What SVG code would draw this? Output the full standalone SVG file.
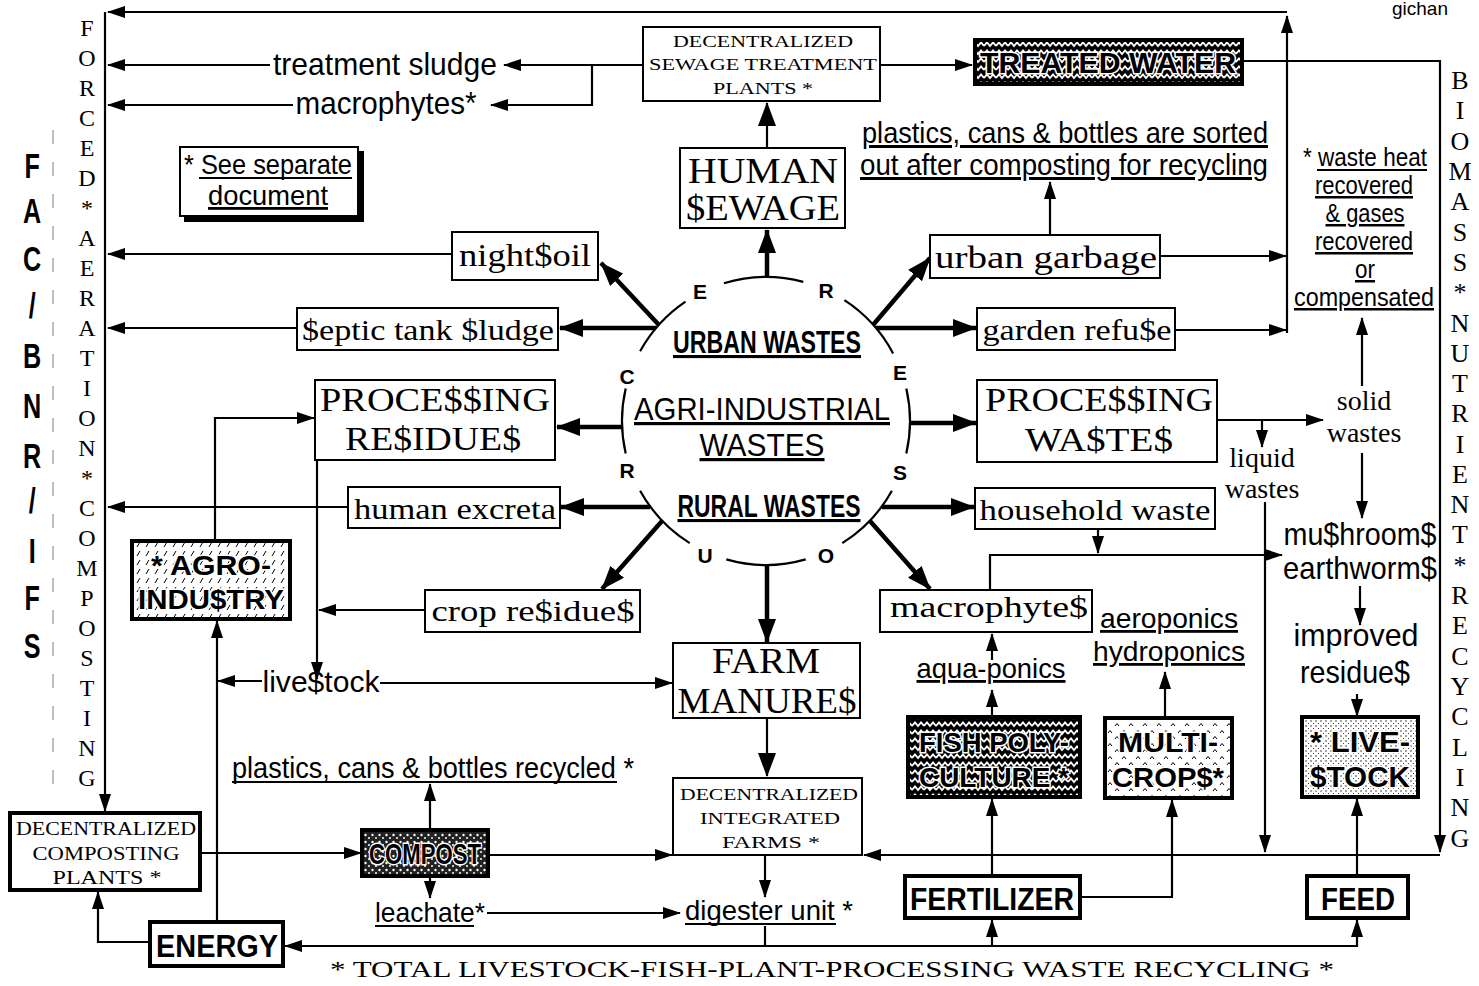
<svg xmlns="http://www.w3.org/2000/svg" width="1479" height="986" viewBox="0 0 1479 986">
<style>
.c{fill:none;stroke:#000;stroke-width:2.2}
.k{fill:none;stroke:#000;stroke-width:4.5}
.b{fill:#fff;stroke:#000;stroke-width:2}
.bt{stroke:#000;stroke-width:4}
.ul{stroke:#000;stroke-width:2}
.sn{font-family:"Liberation Sans Narrow","Liberation Sans",Arial,sans-serif}
.sf{font-family:"Liberation Serif","Times New Roman",serif}
.u{text-decoration:underline}
.h{stroke:#fff;stroke-width:3;paint-order:stroke;font-weight:bold}
.lt{font-family:"Liberation Sans Narrow","Liberation Sans",Arial,sans-serif;font-weight:bold;font-size:21px}
</style>
<defs>
<marker id="a" viewBox="0 0 18 12" refX="17" refY="6" markerWidth="18" markerHeight="12" markerUnits="userSpaceOnUse" orient="auto"><path d="M0,0L18,6L0,12z"/></marker>
<marker id="A" viewBox="0 0 24 18" refX="23" refY="9" markerWidth="24" markerHeight="18" markerUnits="userSpaceOnUse" orient="auto"><path d="M0,0L24,9L0,18z"/></marker>
<pattern id="wave" width="12" height="8" patternUnits="userSpaceOnUse"><rect width="12" height="8" fill="#000"/><path d="M0,6L3,2.5L6,6L9,2.5L12,6" fill="none" stroke="#fff" stroke-width="1.8"/></pattern>
<pattern id="dash" width="9" height="9" patternUnits="userSpaceOnUse"><rect width="9" height="9" fill="#fff"/><path d="M2,7L5,2" stroke="#000" stroke-width="1"/></pattern>
<pattern id="blot" width="7" height="7" patternUnits="userSpaceOnUse"><rect width="7" height="7" fill="#222"/><circle cx="1.5" cy="2" r="1.2" fill="#fff"/><circle cx="5" cy="5" r="1" fill="#fff"/></pattern>
<pattern id="dot" width="5" height="5" patternUnits="userSpaceOnUse"><rect width="5" height="5" fill="#fff"/><circle cx="1" cy="1" r="0.7" fill="#000"/><circle cx="3.5" cy="3.5" r="0.5" fill="#000"/></pattern>
<pattern id="caret" width="14" height="13" patternUnits="userSpaceOnUse"><rect width="14" height="13" fill="#fff"/><path d="M2,5L4,2.5L6,5M9,11L11,8.5L13,11" fill="none" stroke="#000" stroke-width="1"/></pattern>
</defs>
<rect width="1479" height="986" fill="#fff"/>

<!-- side columns -->
<g id="side-fac-bnr-ifs">
<text class="sn" font-weight="bold" font-size="36" text-anchor="middle" transform="scale(0.7,1)" x="46 46 46 46 46 46 46 46 46 46 46" y="178 223 271 318 368 418 468 513 563 610 658">FAC/BNR/IFS</text>
<path d="M53,130V800" stroke="#aaa" stroke-width="1.5" stroke-dasharray="14 18" fill="none"/>
</g>
<g id="side-forced-aeration">
<text class="sf" font-size="24" text-anchor="middle" x="87 87 87 87 87 87 87 87 87 87 87 87 87 87 87 87 87 87 87 87 87 87 87 87 87 87" y="36 66 96 126 156 186 216 246 276 306 336 366 396 426 456 486 516 546 576 606 636 666 696 726 756 786">FORCED*AERATION*COMPOSTING</text>
</g>
<g id="side-biomass">
<text class="sf" font-size="26" text-anchor="middle" x="1460 1460 1460 1460 1460 1460 1460 1460 1460 1460 1460 1460 1460 1460 1460 1460 1460 1460 1460 1460 1460 1460 1460 1460 1460 1460" y="89 119 150 180 210 241 271 301 332 362 392 422 453 483 513 543 574 604 634 665 695 725 756 786 816 847">BIOMASS*NUTRIENT*RECYCLING</text>
</g>
<g id="corner-note"><text class="sn" font-size="19" x="1420" y="15" text-anchor="middle">gichan</text></g>

<!-- connectors -->
<g id="connectors">
<path class="c" d="M1287,333V16" marker-end="url(#a)"/>
<path class="c" d="M1287,12H108" marker-end="url(#a)"/>
<path class="c" d="M1160,256H1286" marker-end="url(#a)"/>
<path class="c" d="M1175,330H1286" marker-end="url(#a)"/>
<path class="c" d="M1050,235V182" marker-end="url(#a)"/>
<path class="c" d="M1242,61H1440V852" marker-end="url(#a)"/>
<path class="c" d="M1440,855H864" marker-end="url(#a)"/>
<path class="c" d="M880,65H972" marker-end="url(#a)"/>
<path class="c" d="M643,65H504" marker-end="url(#a)"/>
<path class="c" d="M592,65V105H491" marker-end="url(#a)"/>
<path class="c" d="M270,65H108" marker-end="url(#a)"/>
<path class="c" d="M293,105H108" marker-end="url(#a)"/>
<path class="c" d="M452,254H108" marker-end="url(#a)"/>
<path class="c" d="M297,328H108" marker-end="url(#a)"/>
<path class="c" d="M348,507H108" marker-end="url(#a)"/>
<path class="c" d="M105,12V811" marker-end="url(#a)"/>
<path class="c" d="M215,541V418H314" marker-end="url(#a)"/>
<path class="c" d="M317,460V679" marker-end="url(#a)"/>
<path class="c" d="M425,610H319" marker-end="url(#a)"/>
<path class="c" d="M262,681H218" marker-end="url(#a)"/>
<path class="c" d="M380,683H672" marker-end="url(#a)"/>
<path class="c" d="M217,922V621" marker-end="url(#a)"/>
<path class="c" d="M200,853H361" marker-end="url(#a)"/>
<path class="c" d="M430,830V784" marker-end="url(#a)"/>
<path class="c" d="M430,876V898" marker-end="url(#a)"/>
<path class="c" d="M488,855H672" marker-end="url(#a)"/>
<path class="c" d="M487,913H680" marker-end="url(#a)"/>
<path class="c" d="M765,855V897" marker-end="url(#a)"/>
<path class="c" d="M765,926V946"/>
<path class="c" d="M765,946H285" marker-end="url(#a)"/>
<path class="c" d="M765,946H1357V920" marker-end="url(#a)"/>
<path class="c" d="M992,946V920" marker-end="url(#a)"/>
<path class="c" d="M150,942H98V892" marker-end="url(#a)"/>
<path class="c" d="M992,876V799" marker-end="url(#a)"/>
<path class="c" d="M992,717V690" marker-end="url(#a)"/>
<path class="c" d="M992,660V634" marker-end="url(#a)"/>
<path class="c" d="M1080,897H1172V800" marker-end="url(#a)"/>
<path class="c" d="M1165,718V672" marker-end="url(#a)"/>
<path class="c" d="M1357,876V799" marker-end="url(#a)"/>
<path class="c" d="M1357,694V716" marker-end="url(#a)"/>
<path class="c" d="M1360,586V625" marker-end="url(#a)"/>
<path class="c" d="M1362,453V518" marker-end="url(#a)"/>
<path class="c" d="M1362,386V318" marker-end="url(#a)"/>
<path class="c" d="M1217,420H1323" marker-end="url(#a)"/>
<path class="c" d="M1262,420V447" marker-end="url(#a)"/>
<path class="c" d="M1265,502V852" marker-end="url(#a)"/>
<path class="c" d="M1098,529V553" marker-end="url(#a)"/>
<path class="c" d="M990,590V555H1282" marker-end="url(#a)"/>
<path class="c" stroke-width="3.5" d="M767,718V776" marker-end="url(#A)"/>
<path class="c" stroke-width="3" d="M767,148V103" marker-end="url(#A)"/>
<path class="k" d="M767,277V230" marker-end="url(#A)"/>
<path class="k" d="M659,325L601,263" marker-end="url(#A)"/>
<path class="k" d="M873,325L930,258" marker-end="url(#A)"/>
<path class="k" d="M656,328H560" marker-end="url(#A)"/>
<path class="k" d="M876,328H976" marker-end="url(#A)"/>
<path class="k" d="M622,427H557" marker-end="url(#A)"/>
<path class="k" d="M910,423H976" marker-end="url(#A)"/>
<path class="k" d="M650,507H561" marker-end="url(#A)"/>
<path class="k" d="M882,507H974" marker-end="url(#A)"/>
<path class="k" d="M662,521L602,589" marker-end="url(#A)"/>
<path class="k" d="M870,521L930,589" marker-end="url(#A)"/>
<path class="k" d="M767,565V642" marker-end="url(#A)"/>
</g>

<!-- center -->
<g id="resource-circle">
<path class="c" stroke-width="2.5" d="M723.9,283.3A144,144 0 0 1 803.3,281.9M844.4,300.2A144,144 0 0 1 893.1,353.4M906.3,388.6A144,144 0 0 1 906.3,453.4M891.9,490.8A144,144 0 0 1 842.3,543.1M805.7,559.4A144,144 0 0 1 726.3,559.4M689.7,543.1A144,144 0 0 1 640.1,490.8M625.7,453.4A144,144 0 0 1 625.7,388.6M640.1,351.2A144,144 0 0 1 685.5,301.6"/>
<g class="lt" text-anchor="middle">
<text x="700" y="299">E</text><text x="826" y="298">R</text><text x="900" y="380">E</text><text x="900" y="480">S</text>
<text x="826" y="563">O</text><text x="705" y="563">U</text><text x="627" y="478">R</text><text x="627" y="384">C</text>
</g>
<text class="sn u" font-weight="bold" font-size="31" x="767" y="353" text-anchor="middle" textLength="188" lengthAdjust="spacingAndGlyphs">URBAN WASTES</text>
<text class="sn u" font-size="32" x="762" y="420" text-anchor="middle" textLength="256" lengthAdjust="spacingAndGlyphs">AGRI-INDUSTRIAL</text>
<text class="sn u" font-size="32" x="762" y="456" text-anchor="middle" textLength="125" lengthAdjust="spacingAndGlyphs">WASTES</text>
<text class="sn u" font-weight="bold" font-size="31" x="769" y="517" text-anchor="middle" textLength="183" lengthAdjust="spacingAndGlyphs">RURAL WASTES</text>
</g>

<!-- top -->
<g id="dstp"><rect x="643" y="27" width="237" height="74" class="b" stroke-width="3"/>
<g class="sf" font-size="17" text-anchor="middle"><text x="763" y="47" textLength="180" lengthAdjust="spacingAndGlyphs">DECENTRALIZED</text><text x="763" y="70" textLength="228" lengthAdjust="spacingAndGlyphs">SEWAGE TREATMENT</text><text x="763" y="94" textLength="100" lengthAdjust="spacingAndGlyphs">PLANTS *</text></g></g>
<g id="treated-water"><rect x="975" y="40" width="267" height="44" fill="url(#wave)" class="bt" stroke-width="3"/>
<text class="sn h" font-size="30" x="1108" y="73" text-anchor="middle" textLength="256" lengthAdjust="spacingAndGlyphs">TREATED WATER</text></g>
<g id="treatment-sludge"><text class="sn" font-size="32" x="385" y="75" text-anchor="middle" textLength="224" lengthAdjust="spacingAndGlyphs">treatment sludge</text></g>
<g id="macrophytes-star"><text class="sn" font-size="32" x="386" y="114" text-anchor="middle" textLength="181" lengthAdjust="spacingAndGlyphs">macrophytes*</text></g>
<g id="see-note"><rect x="184" y="151" width="180" height="71" fill="#000"/><rect x="180" y="147" width="178" height="69" class="b"/>
<text class="sn" font-size="28" x="268" y="174" text-anchor="middle" textLength="168" lengthAdjust="spacingAndGlyphs">* See separate</text>
<line class="ul" x1="199" y1="178" x2="352" y2="178"/>
<text class="sn u" font-size="28" x="268" y="205" text-anchor="middle" textLength="120" lengthAdjust="spacingAndGlyphs">document</text></g>
<g id="human-sewage"><rect x="680" y="148" width="165" height="80" class="b"/>
<text class="sf" font-size="35" x="763" y="183" text-anchor="middle" textLength="150" lengthAdjust="spacingAndGlyphs">HUMAN</text>
<text class="sf" font-size="35" x="763" y="220" text-anchor="middle" textLength="154" lengthAdjust="spacingAndGlyphs">$EWAGE</text></g>
<g id="sorted-note"><text class="sn u" font-size="30" x="1065" y="143" text-anchor="middle" textLength="406" lengthAdjust="spacingAndGlyphs">plastics, cans &amp; bottles are sorted</text>
<text class="sn u" font-size="30" x="1064" y="175" text-anchor="middle" textLength="408" lengthAdjust="spacingAndGlyphs">out after composting for recycling</text></g>
<g id="waste-heat"><g class="sn" font-size="25" text-anchor="middle">
<text x="1365" y="166" textLength="124" lengthAdjust="spacingAndGlyphs">* waste heat</text>
<line class="ul" x1="1317" y1="170" x2="1427" y2="170"/>
<text class="u" x="1364" y="194" textLength="98" lengthAdjust="spacingAndGlyphs">recovered</text>
<text class="u" x="1365" y="222" textLength="79" lengthAdjust="spacingAndGlyphs">&amp; gases</text>
<text class="u" x="1364" y="250" textLength="98" lengthAdjust="spacingAndGlyphs">recovered</text>
<text class="u" x="1365" y="278" textLength="20" lengthAdjust="spacingAndGlyphs">or</text>
<text class="u" x="1364" y="306" textLength="140" lengthAdjust="spacingAndGlyphs">compensated</text></g></g>

<!-- left boxes -->
<g id="nightsoil"><rect x="452" y="232" width="146" height="48" class="b"/><text class="sf" font-size="32" x="525" y="266" text-anchor="middle" textLength="132" lengthAdjust="spacingAndGlyphs">night$oil</text></g>
<g id="septic"><rect x="297" y="308" width="261" height="42" class="b"/><text class="sf" font-size="30" x="428" y="340" text-anchor="middle" textLength="252" lengthAdjust="spacingAndGlyphs">$eptic tank $ludge</text></g>
<g id="processing-residues"><rect x="315" y="380" width="240" height="80" class="b"/>
<text class="sf" font-size="33" x="435" y="411" text-anchor="middle" textLength="230" lengthAdjust="spacingAndGlyphs">PROCE$$ING</text>
<text class="sf" font-size="33" x="433" y="450" text-anchor="middle" textLength="176" lengthAdjust="spacingAndGlyphs">RE$IDUE$</text></g>
<g id="human-excreta"><rect x="348" y="487" width="212" height="41" class="b"/><text class="sf" font-size="30" x="455" y="519" text-anchor="middle" textLength="202" lengthAdjust="spacingAndGlyphs">human excreta</text></g>
<g id="agro-industry"><rect x="132" y="541" width="158" height="78" fill="url(#dash)" class="bt"/>
<text class="sn h" font-size="28" x="211" y="575" text-anchor="middle" textLength="120" lengthAdjust="spacingAndGlyphs">* AGRO-</text>
<text class="sn h" font-size="28" x="211" y="609" text-anchor="middle" textLength="146" lengthAdjust="spacingAndGlyphs">INDU$TRY</text></g>
<g id="crop-residues"><rect x="425" y="590" width="215" height="42" class="b"/><text class="sf" font-size="30" x="533" y="621" text-anchor="middle" textLength="203" lengthAdjust="spacingAndGlyphs">crop re$idue$</text></g>
<g id="livestock-label"><text class="sn" font-size="30" x="321" y="692" text-anchor="middle" textLength="117" lengthAdjust="spacingAndGlyphs">live$tock</text></g>
<g id="farm-manures"><rect x="673" y="643" width="187" height="75" class="b"/>
<text class="sf" font-size="36" x="766" y="673" text-anchor="middle" textLength="108" lengthAdjust="spacingAndGlyphs">FARM</text>
<text class="sf" font-size="36" x="767" y="713" text-anchor="middle" textLength="179" lengthAdjust="spacingAndGlyphs">MANURE$</text></g>

<!-- bottom left -->
<g id="recycled-note"><text class="sn" font-size="30" x="433" y="778" text-anchor="middle" textLength="402" lengthAdjust="spacingAndGlyphs">plastics, cans &amp; bottles recycled *</text>
<line class="ul" x1="232" y1="782" x2="617" y2="782"/></g>
<g id="composting-plants"><rect x="10" y="813" width="190" height="77" class="bt" fill="#fff" stroke-width="3.5"/>
<g class="sf" font-size="18" text-anchor="middle"><text x="106" y="835" textLength="180" lengthAdjust="spacingAndGlyphs">DECENTRALIZED</text><text x="106" y="860" textLength="147" lengthAdjust="spacingAndGlyphs">COMPOSTING</text><text x="107" y="884" textLength="109" lengthAdjust="spacingAndGlyphs">PLANTS *</text></g></g>
<g id="compost"><rect x="362" y="830" width="126" height="46" fill="url(#blot)" class="bt" stroke-width="3"/>
<text class="sn h" font-size="30" x="425" y="864" text-anchor="middle" textLength="112" lengthAdjust="spacingAndGlyphs">COMPOST</text></g>
<g id="leachate"><text class="sn" font-size="28" x="430" y="922" text-anchor="middle" textLength="110" lengthAdjust="spacingAndGlyphs">leachate*</text>
<line class="ul" x1="375" y1="926" x2="474" y2="926"/></g>
<g id="energy"><rect x="150" y="922" width="133" height="44" fill="#fff" class="bt"/>
<text class="sn" font-weight="bold" font-size="32" x="217" y="957" text-anchor="middle" textLength="122" lengthAdjust="spacingAndGlyphs">ENERGY</text></g>
<g id="integrated-farms"><rect x="673" y="778" width="189" height="77" class="b" stroke-width="3"/>
<g class="sf" font-size="17" text-anchor="middle"><text x="769" y="800" textLength="178" lengthAdjust="spacingAndGlyphs">DECENTRALIZED</text><text x="770" y="824" textLength="140" lengthAdjust="spacingAndGlyphs">INTEGRATED</text><text x="771" y="848" textLength="98" lengthAdjust="spacingAndGlyphs">FARMS *</text></g></g>
<g id="digester"><text class="sn" font-size="28" x="769" y="920" text-anchor="middle" textLength="168" lengthAdjust="spacingAndGlyphs">digester unit *</text>
<line class="ul" x1="685" y1="924" x2="836" y2="924"/></g>

<!-- right boxes -->
<g id="urban-garbage"><rect x="930" y="235" width="230" height="43" class="b"/><text class="sf" font-size="32" x="1046" y="268" text-anchor="middle" textLength="222" lengthAdjust="spacingAndGlyphs">urban garbage</text></g>
<g id="garden-refuse"><rect x="977" y="308" width="198" height="42" class="b"/><text class="sf" font-size="30" x="1077" y="340" text-anchor="middle" textLength="189" lengthAdjust="spacingAndGlyphs">garden refu$e</text></g>
<g id="processing-wastes"><rect x="977" y="380" width="240" height="82" class="b"/>
<text class="sf" font-size="33" x="1099" y="411" text-anchor="middle" textLength="228" lengthAdjust="spacingAndGlyphs">PROCE$$ING</text>
<text class="sf" font-size="33" x="1099" y="451" text-anchor="middle" textLength="148" lengthAdjust="spacingAndGlyphs">WA$TE$</text></g>
<g id="solid-wastes"><text class="sf" font-size="28" x="1364" y="410" text-anchor="middle">solid</text><text class="sf" font-size="28" x="1364" y="442" text-anchor="middle">wastes</text></g>
<g id="liquid-wastes"><text class="sf" font-size="28" x="1262" y="467" text-anchor="middle">liquid</text><text class="sf" font-size="28" x="1262" y="498" text-anchor="middle">wastes</text></g>
<g id="household-waste"><rect x="975" y="488" width="240" height="41" class="b"/><text class="sf" font-size="30" x="1095" y="520" text-anchor="middle" textLength="231" lengthAdjust="spacingAndGlyphs">household waste</text></g>
<g id="mushrooms"><text class="sn" font-size="32" x="1360" y="545" text-anchor="middle" textLength="153" lengthAdjust="spacingAndGlyphs">mu$hroom$</text>
<text class="sn" font-size="32" x="1360" y="579" text-anchor="middle" textLength="154" lengthAdjust="spacingAndGlyphs">earthworm$</text></g>
<g id="improved-residues"><text class="sn" font-size="32" x="1356" y="646" text-anchor="middle" textLength="125" lengthAdjust="spacingAndGlyphs">improved</text>
<text class="sn" font-size="32" x="1355" y="683" text-anchor="middle" textLength="110" lengthAdjust="spacingAndGlyphs">residue$</text></g>
<g id="macrophytes"><rect x="880" y="590" width="212" height="42" class="b"/><text class="sf" font-size="30" x="989" y="617" text-anchor="middle" textLength="198" lengthAdjust="spacingAndGlyphs">macrophyte$</text></g>
<g id="aeroponics"><text class="sn u" font-size="28" x="1169" y="628" text-anchor="middle" textLength="138" lengthAdjust="spacingAndGlyphs">aeroponics</text>
<text class="sn u" font-size="28" x="1169" y="661" text-anchor="middle" textLength="152" lengthAdjust="spacingAndGlyphs">hydroponics</text></g>
<g id="aquaponics"><text class="sn u" font-size="28" x="991" y="678" text-anchor="middle" textLength="149" lengthAdjust="spacingAndGlyphs">aqua-ponics</text></g>
<g id="fish-polyculture"><rect x="908" y="717" width="172" height="80" fill="url(#wave)" class="bt"/>
<text class="sn h" font-size="28" x="994" y="752" text-anchor="middle" textLength="150" lengthAdjust="spacingAndGlyphs">FISH POLY-</text>
<text class="sn h" font-size="28" x="994" y="787" text-anchor="middle" textLength="150" lengthAdjust="spacingAndGlyphs">CULTURE *</text></g>
<g id="multi-crops"><rect x="1105" y="718" width="127" height="80" fill="url(#caret)" class="bt"/>
<text class="sn h" font-size="28" x="1168" y="752" text-anchor="middle" textLength="100" lengthAdjust="spacingAndGlyphs">MULTI-</text>
<text class="sn h" font-size="28" x="1168" y="787" text-anchor="middle" textLength="112" lengthAdjust="spacingAndGlyphs">CROP$*</text></g>
<g id="live-stock"><rect x="1302" y="717" width="116" height="80" fill="url(#dot)" class="bt"/>
<text class="sn h" font-size="30" x="1360" y="752" text-anchor="middle" textLength="100" lengthAdjust="spacingAndGlyphs">* LIVE-</text>
<text class="sn h" font-size="30" x="1360" y="787" text-anchor="middle" textLength="100" lengthAdjust="spacingAndGlyphs">$TOCK</text></g>
<g id="fertilizer"><rect x="905" y="876" width="175" height="42" fill="#fff" class="bt"/>
<text class="sn" font-weight="bold" font-size="32" x="992" y="910" text-anchor="middle" textLength="164" lengthAdjust="spacingAndGlyphs">FERTILIZER</text></g>
<g id="feed"><rect x="1307" y="876" width="101" height="42" fill="#fff" class="bt"/>
<text class="sn" font-weight="bold" font-size="32" x="1358" y="910" text-anchor="middle" textLength="74" lengthAdjust="spacingAndGlyphs">FEED</text></g>

<g id="caption"><text class="sf" font-size="24" x="832" y="977" text-anchor="middle" textLength="1004" lengthAdjust="spacingAndGlyphs">* TOTAL LIVESTOCK-FISH-PLANT-PROCESSING WASTE RECYCLING *</text></g>
</svg>
